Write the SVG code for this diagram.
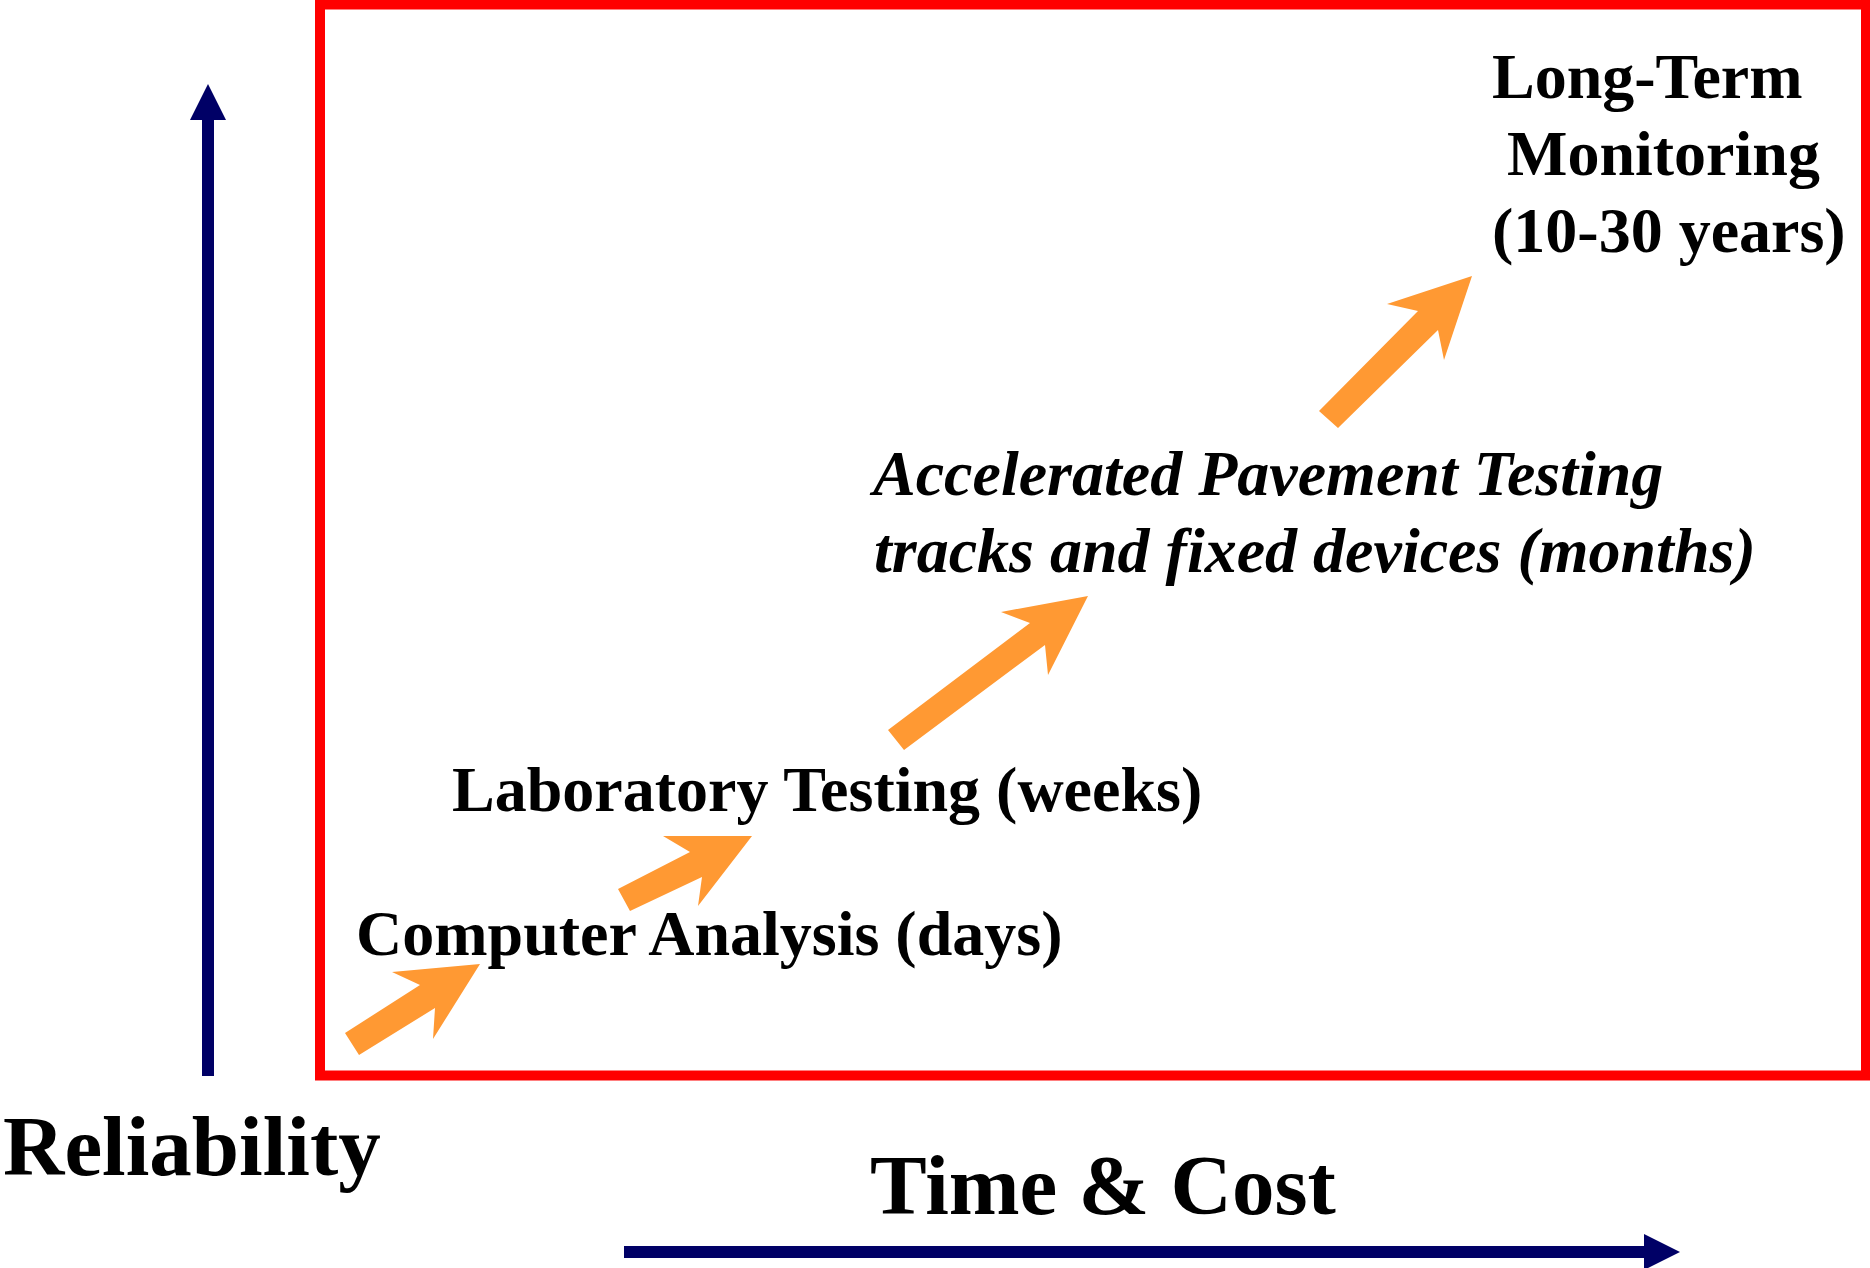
<svg xmlns="http://www.w3.org/2000/svg" width="1870" height="1268" viewBox="0 0 1870 1268">
  <style>
    .t { font-family: "Liberation Serif", "Times New Roman", serif; font-weight: bold; fill: #000; }
    .i { font-style: italic; }
    .axis { fill: #000066; }
    .step { fill: #FF9933; }
  </style>
  <rect width="1870" height="1268" fill="#fff"/>
  <g id="frame">
    <rect x="320" y="4.5" width="1546" height="1071" fill="none" stroke="#FF0000" stroke-width="10"/>
  </g>
  <g id="axis-reliability">
    <rect class="axis" x="202" y="118" width="12" height="958"/>
    <polygon class="axis" points="190,120 208,84 226,120"/>
    <text class="t" x="3" y="1175" font-size="85">Reliability</text>
  </g>
  <g id="axis-time-cost">
    <rect class="axis" x="624" y="1246" width="1022" height="12"/>
    <polygon class="axis" points="1644,1234 1680,1252 1644,1270"/>
    <text class="t" x="870" y="1214" font-size="85">Time &amp; Cost</text>
  </g>
  <g id="node-computer">
    <text class="t" x="356" y="955" font-size="64">Computer Analysis (days)</text>
  </g>
  <g id="node-laboratory">
    <text class="t" x="452" y="811" font-size="64">Laboratory Testing (weeks)</text>
  </g>
  <g id="node-apt">
    <text class="t i" x="873" y="495" font-size="64">Accelerated Pavement Testing</text>
    <text class="t i" x="874" y="572" font-size="64">tracks and fixed devices (months)</text>
  </g>
  <g id="node-ltm">
    <text class="t" x="1492" y="98" font-size="64">Long-Term</text>
    <text class="t" x="1507" y="175" font-size="64">Monitoring</text>
    <text class="t" x="1492" y="252" font-size="64">(10-30 years)</text>
  </g>
  <g id="connectors">
    <polygon class="step" points="359,1055 345,1033 420,985 392,972 480,964 433,1039 435,1008"/>
    <polygon class="step" points="630,911 618,889 690,852 663,836 752,836 698,906 702,877"/>
    <polygon class="step" points="904,750 888,730 1030,623 1001,612 1088,596 1048,675 1045,645"/>
    <polygon class="step" points="1338,428 1319,411 1418,311 1387,304 1472,276 1444,360 1438,330"/>
  </g>
</svg>
